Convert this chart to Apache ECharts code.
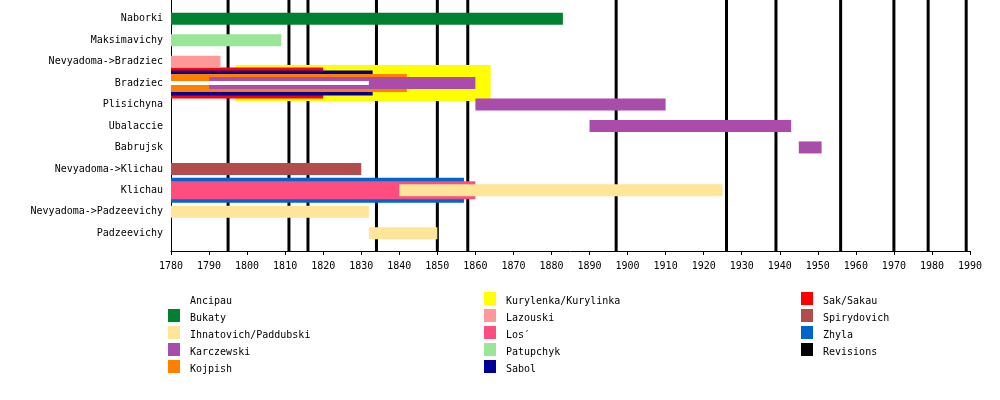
<!DOCTYPE html>
<html>
<head>
<meta charset="utf-8">
<script src="https://cdn.jsdelivr.net/npm/echarts@6/dist/echarts.min.js"></script>
<style>html,body{margin:0;padding:0;background:#fff}#c{width:1000px;height:400px}</style>
</head>
<body>
<div id="c"></div>
<script>
const rows = ['Naborki','Maksimavichy','Nevyadoma->Bradziec','Bradziec','Plisichyna','Ubalaccie','Babrujsk','Nevyadoma->Klichau','Klichau','Nevyadoma->Padzeevichy','Padzeevichy'];
const owners = ['Ancipau','Bukaty','Ihnatovich/Paddubski','Karczewski','Kojpish','Kurylenka/Kurylinka','Lazouski','Los′','Patupchyk','Sabol','Sak/Sakau','Spirydovich','Zhyla'];
// [rowIndex, startYear, endYear]
const ancipau = [[3,1780,1832]];
const bukaty = [[0,1780,1883]];
const ihnatovich = [[8,1840,1925],[9,1780,1832],[10,1832,1850]];
const karczewski = [[3,1790,1860],[4,1860,1910],[5,1890,1943],[6,1945,1951]];
const kojpish = [[3,1780,1842]];
const kurylenka = [[3,1797,1864]];
const lazouski = [[2,1780,1793]];
const los = [[8,1780,1860]];
const patupchyk = [[1,1780,1809]];
const sabol = [[3,1780,1833]];
const sak = [[3,1780,1820]];
const spirydovich = [[7,1780,1830]];
const zhyla = [[8,1780,1857]];
const revisions = [1795,1811,1816,1834,1850,1858,1897,1926,1939,1956,1970,1979,1989];
const yearMin = 1780, yearMax = 1990, yearStep = 10;

const ownerData = [ancipau,bukaty,ihnatovich,karczewski,kojpish,kurylenka,lazouski,los,patupchyk,sabol,sak,spirydovich,zhyla];
const colors = {
  'Ancipau':'#ffffff','Bukaty':'#008033','Ihnatovich/Paddubski':'#ffe599','Karczewski':'#aa4daa',
  'Kojpish':'#ff8000','Kurylenka/Kurylinka':'#ffff00','Lazouski':'#ff9999','Los′':'#ff4d80',
  'Patupchyk':'#99e699','Sabol':'#000099','Sak/Sakau':'#ff0000','Spirydovich':'#b34d4d','Zhyla':'#0066cc'
};
const heights = {'Ancipau':4,'Kurylenka/Kurylinka':36,'Sak/Sakau':31,'Sabol':25,'Zhyla':25,'Kojpish':18,'Los′':18};
const FONT = 'DejaVu Sans Mono';

const series = owners.map((name, i) => {
  const h = heights[name] || 12;
  return {
    name, type: 'custom', xAxisIndex: 1, yAxisIndex: 1,
    z: 100 - h,
    itemStyle: {color: colors[name]},
    encode: {x: [1,2], y: 0},
    data: ownerData[i],
    silent: true,
    renderItem: (params, api) => {
      const r = api.value(0);
      const p0 = api.coord([api.value(1), r]);
      const p1 = api.coord([api.value(2), r]);
      return {type:'rect', shape:{x:p0[0], y:p0[1]-h/2, width:p1[0]-p0[0], height:h}, style:{fill: colors[name]}};
    }
  };
});
series.push({
  name: 'Revisions', type: 'custom', xAxisIndex: 0, yAxisIndex: 0, z: 1,
  itemStyle: {color: '#000000'}, silent: true,
  encode: {x: 0},
  data: revisions.map(y => [y]),
  renderItem: (params, api) => {
    const top = api.coord([api.value(0), 1]);
    const bot = api.coord([api.value(0), 0]);
    return {type:'rect', shape:{x:top[0]-1.5, y:top[1], width:3, height:bot[1]-top[1]}, style:{fill:'#000'}};
  }
});

const legendBase = {
  orient:'vertical', top: 292, padding: 0, itemWidth: 12, itemHeight: 13, itemGap: 3,
  icon: 'rect', selectedMode: false,
  formatter: n => '{t|' + n + '}',
  textStyle: {fontFamily: FONT, fontSize: 10, color: '#000',
    rich: {t: {fontFamily: FONT, fontSize: 10, color: '#000', padding: [5,0,0,5]}}}
};

const chart = echarts.init(document.getElementById('c'), null, {renderer:'canvas'});
chart.setOption({
  animation: false,
  backgroundColor: '#fff',
  grid: [
    {left: 171, width: 799, top: 0, height: 251},
    {left: 171, width: 799, top: 8, height: 236}
  ],
  xAxis: [
    {type:'value', gridIndex:0, min:yearMin, max:yearMax, interval:yearStep,
     axisLine:{show:true, lineStyle:{color:'#000', width:1}},
     axisTick:{show:true, length:4, lineStyle:{color:'#000'}},
     axisLabel:{fontFamily:FONT, fontSize:10, color:'#000', margin:10, formatter: v => String(v)},
     splitLine:{show:false}},
    {type:'value', gridIndex:1, min:yearMin, max:yearMax, show:false}
  ],
  yAxis: [
    {type:'value', gridIndex:0, min:0, max:1, axisLine:{show:true, lineStyle:{color:'#000'}},
     axisTick:{show:false}, axisLabel:{show:false}, splitLine:{show:false}},
    {type:'category', gridIndex:1, data: rows, inverse:true,
     axisLine:{show:false}, axisTick:{show:false},
     axisLabel:{fontFamily:FONT, fontSize:10, color:'#000', margin:8, padding:[2,0,0,0]}}
  ],
  legend: [
    Object.assign({}, legendBase, {left: 168, data: owners.slice(0,5)}),
    Object.assign({}, legendBase, {left: 484, data: owners.slice(5,10)}),
    Object.assign({}, legendBase, {left: 801, data: owners.slice(10).concat(['Revisions'])})
  ],
  series
});
</script>
</body>
</html>
